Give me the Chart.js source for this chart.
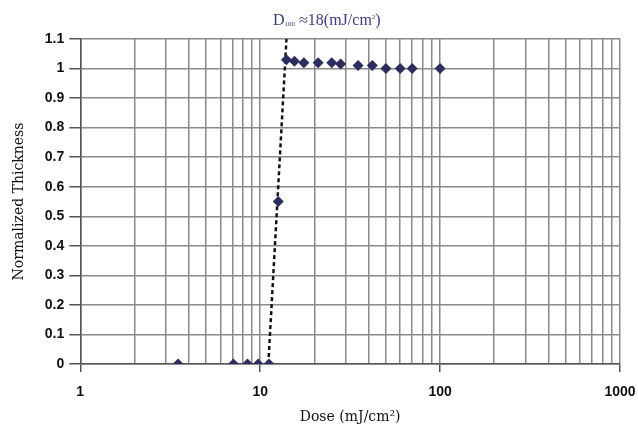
<!DOCTYPE html>
<html>
<head>
<meta charset="utf-8">
<script src="https://cdn.jsdelivr.net/npm/chart.js@4/dist/chart.umd.min.js"></script>
<style>
  html,body{margin:0;padding:0;background:#fff;}
  #wrap{position:relative;width:638px;height:431px;}
  #note{position:absolute;left:273px;top:11px;font-family:"Liberation Serif","Times New Roman",serif;font-size:16px;color:#3c3c7c;white-space:nowrap;}
  #note sub{font-size:7px;vertical-align:-1px;}
  #note sup{font-size:7px;vertical-align:6px;}
</style>
</head>
<body>
<div id="wrap">
  <canvas id="c" width="638" height="431"></canvas>
  <div id="note">D<sub>100</sub> ≈18(mJ/cm<sup>2</sup>)</div>
</div>
<script>
// measured points (dose in mJ/cm2, normalized thickness)
const dose = [3.5, 7.1, 8.5, 9.75, 11.2, 12.6, 14, 15.5, 17.5, 21, 25, 28, 35, 42, 50, 60, 70, 100];
const thickness = [0, 0, 0, 0, 0, 0.55, 1.03, 1.025, 1.02, 1.02, 1.02, 1.015, 1.01, 1.01, 1.0, 1.0, 1.0, 1.0];
// dashed guide through the rise
const guideDose = [11.1, 14];
const guideThickness = [0, 1.1];
const xTicks = [1,2,3,4,5,6,7,8,9,10,20,30,40,50,60,70,80,90,100,200,300,400,500,600,700,800,900,1000];
const xLabels = [1, 10, 100, 1000];

const gridColor = "#8a8a8a";
const pts = dose.map((d,i)=>({x:d, y:thickness[i]}));
const guide = guideDose.map((d,i)=>({x:d, y:guideThickness[i]}));
const tickFont = {family:"Liberation Sans, Arial, sans-serif", size:14, weight:"bold", lineHeight:1};
const titleFont = {family:"DejaVu Serif, Liberation Serif, serif", size:14, lineHeight:1};

new Chart(document.getElementById("c"), {
  type: "scatter",
  data: {
    datasets: [
      { label:"thickness", data:pts, pointStyle:"rectRot", pointRadius:5.5, pointHoverRadius:5.5,
        backgroundColor:"#2c2c5e", borderColor:"#2c2c5e", borderWidth:0, showLine:false },
      { label:"guide", data:guide, showLine:true, pointRadius:0, borderColor:"#111",
        borderWidth:2.5, borderDash:[4,3], fill:false }
    ]
  },
  options: {
    responsive:false, animation:false,
    layout:{ padding:{ top:39, right:0, left:11, bottom:7 } },
    plugins:{ legend:{display:false}, tooltip:{enabled:false} },
    scales:{
      x:{
        type:"logarithmic", min:1, max:1000,
        afterBuildTicks: s=>{ s.ticks = xTicks.map(v=>({value:v, major:xLabels.includes(v)})); },
        // let the "1000" label run close to the edge, as in the original
        afterFit: s=>{ s.paddingRight = 18; },
        ticks:{ autoSkip:false, maxRotation:0, padding:13, color:"#111", font:tickFont,
          callback: v=> xLabels.includes(v) ? String(v) : "" },
        grid:{ color:gridColor, lineWidth:1.5, tickLength:8,
          tickColor: c=> (c.tick && xLabels.includes(c.tick.value)) ? "#555" : "rgba(0,0,0,0)" },
        border:{ color:"#555", width:1.5 },
        title:{ display:true, text:"Dose (mJ/cm²)", color:"#111", padding:{top:-2,bottom:0}, font:titleFont }
      },
      y:{
        min:0, max:1.1,
        ticks:{ stepSize:0.1, autoSkip:false, padding:5, color:"#111",
          font:{family:"Liberation Sans, Arial, sans-serif", size:14, weight:"bold"},
          callback: v=> String(Math.round(v*10)/10) },
        grid:{ color:gridColor, lineWidth:1.5, tickLength:11, tickColor:"#555" },
        border:{ color:"#555", width:1.5 },
        title:{ display:true, text:"Normalized Thickness", color:"#111", padding:{top:0,bottom:12},
          font:{family:"DejaVu Serif, Liberation Serif, serif", size:14} }
      }
    }
  }
});
</script>
</body>
</html>
